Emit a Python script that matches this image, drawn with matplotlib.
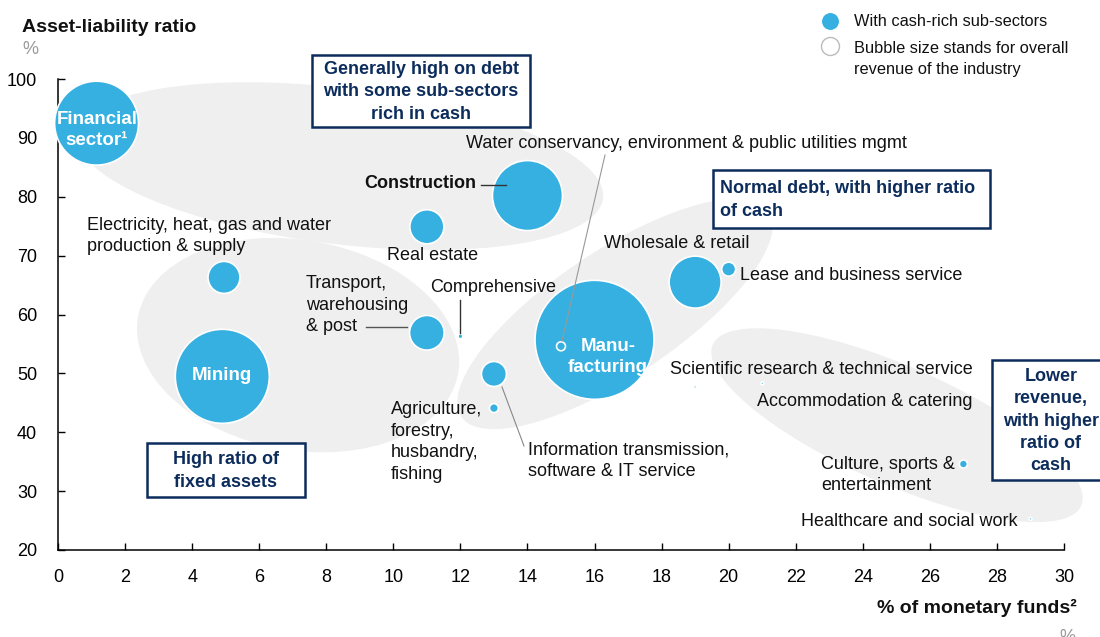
import matplotlib
matplotlib.use('Agg')
import matplotlib.pyplot as plt
from matplotlib.patches import Ellipse, Rectangle
from matplotlib.transforms import ScaledTranslation

plt.rcParams['font.family'] = ['Liberation Sans', 'DejaVu Sans']

BLUE = '#35b0e0'
NAVY = '#0c2c5c'
GREY_BG = '#efefef'

# industries: share of monetary funds (%), asset-liability ratio (%), relative revenue (bubble area)
sectors = ['Financial sector', 'Mining', 'Electricity, heat, gas and water', 'Real estate',
           'Construction', 'Transport, warehousing & post', 'Comprehensive',
           'Information transmission', 'Agriculture', 'Manufacturing', 'Water conservancy',
           'Wholesale & retail', 'Lease and business service', 'Scientific research',
           'Accommodation & catering', 'Culture, sports & entertainment', 'Healthcare']
monetary_funds = [1.15, 4.9, 4.95, 11.0, 14.0, 11.0, 12.0, 13.0, 13.0, 16.0, 15.0,
                  19.0, 20.0, 19.0, 21.0, 27.0, 29.0]
asset_liability = [92.5, 49.5, 66.3, 74.9, 80.2, 56.9, 56.3, 49.9, 44.1, 55.7, 54.6,
                   65.5, 67.7, 47.7, 48.3, 34.6, 25.3]
revenue = [1760, 2210, 256, 290, 1225, 300, 6, 156, 20, 3540, 20, 676, 49, 2, 2, 16, 2]
cash_rich = [True, True, True, True, True, True, True, True, True, True, False,
             True, True, True, True, True, True]

x_ticks = list(range(0, 31, 2))
y_ticks = list(range(20, 101, 10))

fig = plt.figure(figsize=(11, 6.37), dpi=100)
ax = fig.add_axes([58 / 1100, 1 - 550 / 637, 1006 / 1100, 471 / 637])
ax.set_xlim(0, 30)
ax.set_ylim(20, 100)
ax.set_xticks(x_ticks)
ax.set_yticks(y_ticks)
ax.tick_params(direction='in', length=5, width=1, labelsize=13, pad=14)
ax.tick_params(axis='y', pad=15)
for side in ['top', 'right']:
    ax.spines[side].set_visible(False)
for side in ['left', 'bottom']:
    ax.spines[side].set_linewidth(1.1)


def blob(cx, cy, w, h, angle):
    # grey grouping ellipse, centre in data units, size in pixels
    tr = fig.dpi_scale_trans + ScaledTranslation(cx, cy, ax.transData)
    ax.add_patch(Ellipse((0, 0), w / 100, h / 100, angle=angle, transform=tr,
                         fc=GREY_BG, ec='none', zorder=0, clip_on=False))


blob(8.41, 85.2, 530, 156, -7)
blob(7.16, 54.8, 325, 210, -10)
blob(16.61, 60.1, 370, 126, 33.7)
blob(25.02, 41.2, 402, 118, -23.6)

sizes = [r * 2.0736 for r in revenue]
faces = [BLUE if c else 'none' for c in cash_rich]
ax.scatter(monetary_funds, asset_liability, s=sizes, c=faces, edgecolors='white',
           linewidths=1.2, zorder=3, clip_on=False)

# overlay in pixel units for labels and notes
ov = fig.add_axes([0, 0, 1, 1])
ov.set_xlim(0, 1100)
ov.set_ylim(637, 0)
ov.axis('off')
ov.patch.set_alpha(0)


def note(x0, y0, x1, y1, text, ha='center'):
    ov.add_patch(Rectangle((x0, y0), x1 - x0, y1 - y0, fc='white', ec=NAVY, lw=1.8,
                           clip_on=False))
    tx = (x0 + x1) / 2 if ha == 'center' else x0 + 7
    ov.text(tx, (y0 + y1) / 2 + 1, text, ha=ha, va='center', ma=ha, color=NAVY,
            fontsize=13, fontweight='bold', linespacing=1.4)


note(312, 55, 530, 127, 'Generally high on debt\nwith some sub-sectors\nrich in cash')
note(713, 170, 990, 228, 'Normal debt, with higher ratio\nof cash', ha='left')
note(147, 443, 305, 497, 'High ratio of\nfixed assets')
note(992, 360, 1110, 480, 'Lower\nrevenue,\nwith higher\nratio of\ncash')

labels = [
    ('Water conservancy, environment & public utilities mgmt', 466, 143),
    ('Electricity, heat, gas and water\nproduction & supply', 87, 236),
    ('Real estate', 387, 255),
    ('Transport,\nwarehousing\n& post', 306, 305),
    ('Comprehensive', 430, 288),
    ('Wholesale & retail', 604, 243),
    ('Lease and business service', 740, 276),
    ('Scientific research & technical service', 670, 370),
    ('Accommodation & catering', 757, 401),
    ('Agriculture,\nforestry,\nhusbandry,\nfishing', 391, 442),
    ('Information transmission,\nsoftware & IT service', 528, 461),
    ('Culture, sports &\nentertainment', 821, 475),
    ('Healthcare and social work', 801, 521),
]
for txt, x, y in labels:
    ov.text(x, y, txt, ha='left', va='center', fontsize=13, color='#111111',
            linespacing=1.35)
ov.text(476, 184, 'Construction', ha='right', va='center', fontsize=13,
        fontweight='bold', color='#111111')

for txt, x, y in [('Financial\nsector¹', 97, 130), ('Mining', 222, 376),
                  ('Manu-\nfacturing', 608, 357)]:
    ov.text(x, y, txt, ha='center', va='center', fontsize=13.5, fontweight='bold',
            color='white', linespacing=1.35)

leaders = [((605, 155), (562, 341), '#999999', 0.8),
           ((481, 185), (506, 185), '#333333', 1.0),
           ((366, 327), (407, 327), '#555555', 1.0),
           ((460, 300), (460, 333), '#333333', 1.0),
           ((502, 387), (524, 446), '#888888', 0.8)]
for (x0, y0), (x1, y1), col, lw in leaders:
    ov.plot([x0, x1], [y0, y1], color=col, lw=lw)

# legend
ov.scatter([830], [21], s=168, c=BLUE, edgecolors='white', linewidths=0.8)
ov.scatter([830], [46], s=168, c='white', edgecolors='#bbbbbb', linewidths=1.0)
ov.text(854, 22, 'With cash-rich sub-sectors', ha='left', va='center', fontsize=11.8,
        color='#111111')
ov.text(854, 59, 'Bubble size stands for overall\nrevenue of the industry', ha='left',
        va='center', fontsize=11.8, color='#111111', linespacing=1.45)

# axis titles
ov.text(22, 28, 'Asset-liability ratio', ha='left', va='center', fontsize=14,
        fontweight='bold', color='#111111')
ov.text(22, 50, '%', ha='left', va='center', fontsize=13, color='#999999')
ov.text(1077, 608, '% of monetary funds²', ha='right', va='center', fontsize=14,
        fontweight='bold', color='#111111')
ov.text(1059, 637, '%', ha='left', va='center', fontsize=13, color='#999999')

fig.savefig('out.png', dpi=100)
